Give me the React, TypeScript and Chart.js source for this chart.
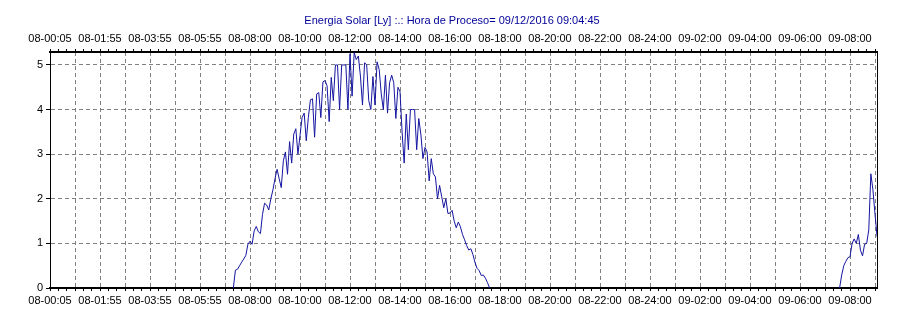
import { useEffect, useRef } from "react";
import { Chart, registerables } from "chart.js";

Chart.register(...registerables);

const TITLE = "Energia Solar [Ly] :.: Hora de Proceso= 09/12/2016 09:04:45";

const X_TICK_LABELS = [
  "08-00:05", "08-01:55", "08-03:55", "08-05:55", "08-08:00", "08-10:00",
  "08-12:00", "08-14:00", "08-16:00", "08-18:00", "08-20:00", "08-22:00",
  "08-24:00", "09-02:00", "09-04:00", "09-06:00", "09-08:00",
];
const Y_TICKS = [0, 1, 2, 3, 4, 5];
const Y_MAX = 5.29;

const AXIS_START = "08-00:00";
const PROCESS_TIME = "09-09:04:45";
const SAMPLE_STEP_MIN = 5;

const DAY1_START = "08-07:20";
const DAY1_VALUES = [
  0, 0.4, 0.42, 0.5, 0.58, 0.65, 0.73, 0.98, 1.05, 0.98,
  1.28, 1.38, 1.26, 1.22, 1.65, 1.9, 1.86, 1.75, 2.0, 2.2,
  2.45, 2.66, 2.45, 2.25, 2.85, 3.05, 2.55, 3.28, 2.8, 3.45,
  3.57, 3.0, 3.42, 3.82, 3.92, 3.3, 3.82, 4.22, 4.24, 3.38,
  4.35, 4.38, 3.82, 4.62, 4.65, 4.53, 3.73, 4.72, 4.2, 5.0,
  5.0, 4.0, 5.0, 5.0, 5.0, 4.0, 5.25, 4.3, 5.28, 5.12,
  5.2, 4.75, 4.1, 5.05, 5.0, 4.2, 4.0, 4.74, 4.1, 5.07,
  4.9, 4.35, 4.0, 4.77, 3.92, 4.6, 4.77, 4.6, 3.8, 4.5,
  4.4, 3.5, 2.8, 3.9, 3.1, 4.0, 4.0, 4.0, 3.1, 3.8,
  3.45, 2.9, 3.15, 3.05, 2.4, 2.9, 2.56, 2.49, 2.0, 2.3,
  2.05, 1.8, 2.0, 1.67, 1.68, 1.74, 1.5, 1.35, 1.48, 1.37,
  1.2, 1.08, 0.95, 0.85, 0.88, 0.75, 0.57, 0.44, 0.39, 0.28,
  0.29, 0.22, 0.12, 0,
];

const DAY2_START = "09-07:35";
const DAY2_VALUES = [
  0, 0.29, 0.5, 0.6, 0.68, 0.7, 1.0, 1.1, 1.0, 1.2,
  0.85, 0.72, 0.98, 1.0, 1.3, 2.56, 2.2, 1.65, 1.15,
];

function toHours(label: string): number {
  const day = Number(label.slice(0, 2));
  const parts = label.slice(3).split(":").map(Number);
  const base = Number(AXIS_START.slice(0, 2));
  return (day - base) * 24 + parts[0] + (parts[1] || 0) / 60 + (parts[2] || 0) / 3600;
}

function series(start: string, values: number[]) {
  const t0 = toHours(start);
  return values.map((v, i) => ({ x: t0 + (i * SAMPLE_STEP_MIN) / 60, y: v }));
}

const X_MAX = toHours(PROCESS_TIME);
const MINOR_PER_HOUR = 3;
const LABEL_EVERY = 6;

const FONT = { family: "'Liberation Sans', Arial, sans-serif", size: 11, weight: "normal" as const };
const LINE_COLOR = "#1414a0";
const GRID_COLOR = "#808080";

const gridDash = (ctx: any) => (ctx.type === "tick" ? [4, 3] : []);

const buildXTicks = (scale: any) => {
  const ticks = [];
  const n = Math.floor(X_MAX * MINOR_PER_HOUR);
  for (let k = 0; k <= n; k++) ticks.push({ value: k / MINOR_PER_HOUR });
  scale.ticks = ticks;
};

const xLabel = (_v: any, index: number) =>
  index % LABEL_EVERY === 0 ? X_TICK_LABELS[index / LABEL_EVERY] ?? "" : "";

export default function App() {
  const ref = useRef<HTMLCanvasElement>(null);

  useEffect(() => {
    if (!ref.current) return;
    const xCommon = {
      type: "linear" as const,
      min: 0,
      max: X_MAX,
      afterBuildTicks: buildXTicks,
      ticks: {
        callback: xLabel,
        autoSkip: false,
        maxRotation: 0,
        minRotation: 0,
        padding: 3,
        color: "#000",
        font: FONT,
      },
      border: { display: true, color: "#000", width: 2, dash: gridDash },
    };
    const chart = new Chart(ref.current, {
      type: "line",
      data: {
        datasets: [
          {
            data: series(DAY1_START, DAY1_VALUES),
            borderColor: LINE_COLOR,
            borderWidth: 1,
            pointRadius: 0,
            tension: 0,
            xAxisID: "x",
            yAxisID: "y",
          },
          {
            data: series(DAY2_START, DAY2_VALUES),
            borderColor: LINE_COLOR,
            borderWidth: 1,
            pointRadius: 0,
            tension: 0,
            xAxisID: "x",
            yAxisID: "y",
          },
        ],
      },
      options: {
        responsive: false,
        animation: false,
        devicePixelRatio: 1,
        layout: { padding: { left: 27, right: 27, top: 0, bottom: 0 } },
        plugins: {
          legend: { display: false },
          tooltip: { enabled: false },
          title: {
            display: true,
            text: TITLE,
            color: "#000099",
            font: FONT,
            padding: { top: 14, bottom: 4 },
          },
        },
        scales: {
          x: {
            ...xCommon,
            position: "bottom",
            grid: {
              color: (ctx: any) =>
                ctx.index > 0 && ctx.index % MINOR_PER_HOUR === 0 ? GRID_COLOR : "rgba(0,0,0,0)",
              tickColor: "#000",
              tickLength: 3,
              lineWidth: 1,
            },
            afterFit: (s: any) => {
              s.height = 33;
            },
          },
          xTop: {
            ...xCommon,
            position: "top",
            grid: {
              drawOnChartArea: false,
              tickColor: "#000",
              tickLength: 3,
              lineWidth: 1,
            },
            afterFit: (s: any) => {
              s.height = 20.8;
            },
          },
          y: {
            type: "linear",
            position: "left",
            min: 0,
            max: Y_MAX,
            afterBuildTicks: (s: any) => {
              s.ticks = Y_TICKS.map((v) => ({ value: v }));
            },
            ticks: { color: "#000", font: FONT, padding: 3 },
            grid: {
              color: (ctx: any) => (ctx.index > 0 ? GRID_COLOR : "rgba(0,0,0,0)"),
              tickColor: "#000",
              tickLength: 4,
              lineWidth: 1,
            },
            border: { display: true, color: "#000", width: 1, dash: gridDash },
            afterFit: (s: any) => {
              s.width = 23;
            },
          },
          yRight: {
            type: "linear",
            position: "right",
            min: 0,
            max: Y_MAX,
            ticks: { display: false },
            grid: { drawOnChartArea: false, drawTicks: false },
            border: { display: true, color: "#000", width: 1 },
            afterFit: (s: any) => {
              s.width = 0;
            },
          },
        },
      } as any,
    });
    return () => chart.destroy();
  }, []);

  return (
    <div style={{ position: "absolute", left: 0, top: 0, width: 904, height: 321, background: "#fff" }}>
      <canvas ref={ref} width={904} height={321} style={{ display: "block", width: 904, height: 321 }} />
    </div>
  );
}
